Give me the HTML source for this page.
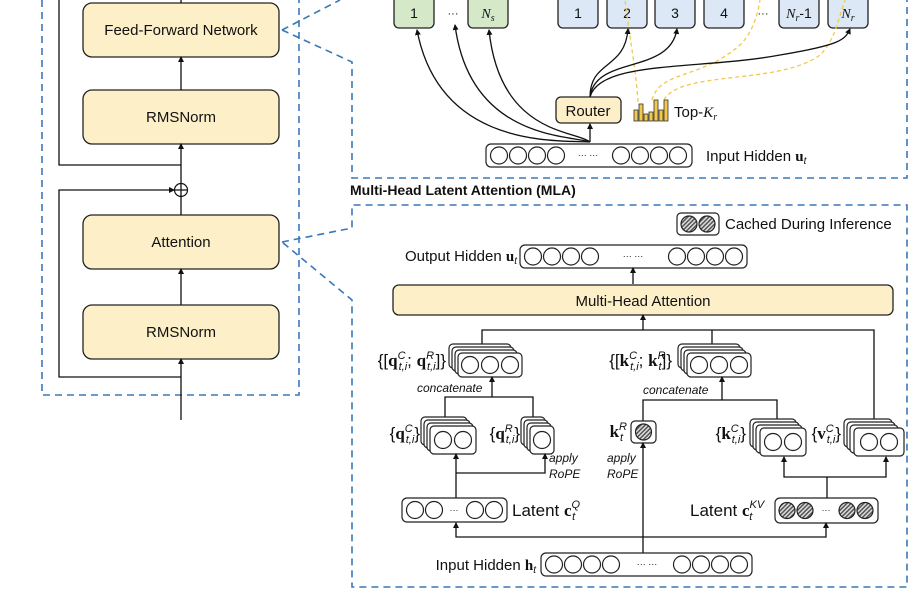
<!DOCTYPE html>
<html><head><meta charset="utf-8"><style>
html,body{margin:0;padding:0;background:#fff;}
svg{display:block;font-family:"Liberation Sans",sans-serif;}
.y{fill:#fdf0c8;stroke:#222;stroke-width:1.3;}
.g{fill:#d5e8c8;stroke:#222;stroke-width:1.3;}
.b{fill:#dce8f5;stroke:#222;stroke-width:1.3;}
.w{fill:#fff;stroke:#222;stroke-width:1.2;}
.l{fill:none;stroke:#111;stroke-width:1.3;}
.d{fill:none;stroke:#3a78b8;stroke-width:1.6;stroke-dasharray:7,5;}
.o{fill:none;stroke:#f2c94c;stroke-width:1.3;stroke-dasharray:4,3;}
.c{fill:#fff;stroke:#222;stroke-width:1.2;}
.h{fill:url(#hat);stroke:#222;stroke-width:1.2;}
text{fill:#111;}
.t{font-size:15px;}
.mt{font-size:17px;}
.s{font-size:14px;}
.i{font-size:12px;font-style:italic;}
.m{font-family:"Liberation Serif",serif;font-weight:bold;}
.sp{font-size:11px;font-style:italic;}
</style></head><body>
<svg width="923" height="600" viewBox="0 0 923 600">
<defs>
<marker id="a" markerWidth="6" markerHeight="6" refX="5" refY="3" orient="auto" markerUnits="userSpaceOnUse"><path d="M0,0 L6,3 L0,6 z" fill="#111"/></marker>
<pattern id="hat" width="3" height="3" patternUnits="userSpaceOnUse" patternTransform="rotate(45)"><rect width="3" height="3" fill="#ddd"/><rect width="1.5" height="3" fill="#555"/></pattern>
</defs>

<!-- LEFT COLUMN -->
<path class="d" d="M42,0 V395 H299 V0"/>
<rect class="y" x="83" y="3" width="196" height="54" rx="9"/>
<text x="181" y="35" text-anchor="middle" class="t">Feed-Forward Network</text>
<rect class="y" x="83" y="90" width="196" height="54" rx="9"/>
<text x="181" y="122" text-anchor="middle" class="t">RMSNorm</text>
<rect class="y" x="83" y="215" width="196" height="54" rx="9"/>
<text x="181" y="247" text-anchor="middle" class="t">Attention</text>
<rect class="y" x="83" y="305" width="196" height="54" rx="9"/>
<text x="181" y="337" text-anchor="middle" class="t">RMSNorm</text>
<path class="l" d="M181,420 V359" marker-end="url(#a)"/>
<path class="l" d="M181,305 V269" marker-end="url(#a)"/>
<path class="l" d="M181,215 V196"/>
<circle cx="181" cy="190" r="6.5" fill="#fff" stroke="#111" stroke-width="1.2"/>
<path class="l" d="M174.5,190 H187.5 M181,183.5 V196.5"/>
<path class="l" d="M181,183.5 V144" marker-end="url(#a)"/>
<path class="l" d="M181,90 V57" marker-end="url(#a)"/>
<path class="l" d="M181,3 V0"/>
<path class="l" d="M181,165 H59 V0"/>
<path class="l" d="M181,377 H59 V190 H174" marker-end="url(#a)"/>

<!-- dashed connectors -->
<path class="d" d="M282,30 L340,0"/>
<path class="d" d="M282,30 L352,62 V178 H907 V0"/>
<path class="d" d="M282,242 L352,228 V205 H907 V587 H352 V300 L282,242"/>

<!-- MoE -->
<rect class="g" x="394" y="-10" width="40" height="38" rx="5"/><text x="414" y="18" text-anchor="middle" class="s">1</text>
<text x="453" y="17" text-anchor="middle" font-size="11">···</text>
<rect class="g" x="468" y="-10" width="40" height="38" rx="5"/><text x="488" y="18" text-anchor="middle" class="s" font-style="italic" font-family="Liberation Serif">N<tspan font-size="10" dy="3">s</tspan></text>
<rect class="b" x="558" y="-10" width="40" height="38" rx="5"/><text x="578" y="18" text-anchor="middle" class="s">1</text>
<rect class="b" x="607" y="-10" width="40" height="38" rx="5"/><text x="627" y="18" text-anchor="middle" class="s">2</text>
<rect class="b" x="655" y="-10" width="40" height="38" rx="5"/><text x="675" y="18" text-anchor="middle" class="s">3</text>
<rect class="b" x="704" y="-10" width="40" height="38" rx="5"/><text x="724" y="18" text-anchor="middle" class="s">4</text>
<text x="763" y="17" text-anchor="middle" font-size="11">···</text>
<rect class="b" x="779" y="-10" width="40" height="38" rx="5"/><text x="799" y="18" text-anchor="middle" class="s"><tspan font-style="italic" font-family="Liberation Serif">N<tspan font-size="10" dy="3">r</tspan></tspan><tspan dy="-3">-1</tspan></text>
<rect class="b" x="828" y="-10" width="40" height="38" rx="5"/><text x="848" y="18" text-anchor="middle" class="s" font-style="italic" font-family="Liberation Serif">N<tspan font-size="10" dy="3">r</tspan></text>

<!-- yellow dashed -->
<path class="o" d="M638,102 C636,70 630,40 625,0"/>
<path class="o" d="M652,100 C660,70 700,80 740,45 C755,30 758,10 760,0"/>
<path class="o" d="M664,100 C680,70 780,85 820,55 C835,40 838,20 845,0"/>

<!-- curves -->
<path class="l" d="M590,142 C560,140 440,150 417,30" marker-end="url(#a)"/>
<path class="l" d="M590,142 C570,135 470,140 455,25" marker-end="url(#a)"/>
<path class="l" d="M590,142 C575,130 500,135 489,30" marker-end="url(#a)"/>
<path class="l" d="M590,142 V124" marker-end="url(#a)"/>
<path class="l" d="M590,97 C590,60 625,70 628,29" marker-end="url(#a)"/>
<path class="l" d="M590,97 C595,55 670,75 677,29" marker-end="url(#a)"/>
<path class="l" d="M590,97 C600,60 700,70 780,55 C840,45 845,40 850,29" marker-end="url(#a)"/>
<rect class="y" x="556" y="97" width="65" height="26" rx="5"/>
<text x="588" y="116" text-anchor="middle" class="t">Router</text>
<g fill="#f2c94c" stroke="#333" stroke-width="0.8">
<rect x="634" y="110" width="4" height="11"/><rect x="639" y="104" width="4" height="17"/><rect x="644" y="114" width="4" height="7"/><rect x="649" y="112" width="4" height="9"/><rect x="654" y="100" width="4" height="21"/><rect x="659" y="110" width="4" height="11"/><rect x="664" y="100" width="4" height="21"/>
</g>
<text x="674" y="117" class="t">Top-<tspan font-style="italic" font-family="Liberation Serif">K<tspan font-size="10" dy="3">r</tspan></tspan></text>
<rect class="w" x="486" y="144" width="206" height="23" rx="5"/>
<g class="c"><circle cx="499" cy="155.5" r="8.5"/><circle cx="518" cy="155.5" r="8.5"/><circle cx="537" cy="155.5" r="8.5"/><circle cx="556" cy="155.5" r="8.5"/><circle cx="621" cy="155.5" r="8.5"/><circle cx="640" cy="155.5" r="8.5"/><circle cx="659" cy="155.5" r="8.5"/><circle cx="678" cy="155.5" r="8.5"/></g>
<text x="588" y="158" text-anchor="middle" font-size="9">··· ···</text>
<text x="706" y="161" class="t">Input Hidden <tspan class="m">u</tspan><tspan font-style="italic" font-size="10" dy="3">t</tspan></text>

<text x="350" y="195" font-size="14" font-weight="bold">Multi-Head Latent Attention (MLA)</text>

<!-- MLA -->
<rect class="w" x="677" y="213" width="42" height="22" rx="4"/>
<circle class="h" cx="689" cy="224" r="8"/><circle class="h" cx="707" cy="224" r="8"/>
<text x="725" y="229" class="t">Cached During Inference</text>

<text x="517" y="261" text-anchor="end" class="t">Output Hidden <tspan class="m">u</tspan><tspan font-style="italic" font-size="10" dy="3">t</tspan></text>
<rect class="w" x="520" y="245" width="227" height="23" rx="5"/>
<g class="c"><circle cx="533" cy="256.5" r="8.5"/><circle cx="552" cy="256.5" r="8.5"/><circle cx="571" cy="256.5" r="8.5"/><circle cx="590" cy="256.5" r="8.5"/><circle cx="677" cy="256.5" r="8.5"/><circle cx="696" cy="256.5" r="8.5"/><circle cx="715" cy="256.5" r="8.5"/><circle cx="734" cy="256.5" r="8.5"/></g>
<text x="633" y="259" text-anchor="middle" font-size="9">··· ···</text>
<path class="l" d="M633,284 V268" marker-end="url(#a)"/>
<rect class="y" x="393" y="285" width="500" height="30" rx="6"/>
<text x="643" y="306" text-anchor="middle" class="t">Multi-Head Attention</text>
<path class="l" d="M643,330 V315" marker-end="url(#a)"/>
<path class="l" d="M482,345 V330 H874 V420 M712,330 V345"/>

<!-- q concat stack -->
<g class="w"><rect x="449" y="344" width="62" height="24" rx="4"/><rect x="452" y="347" width="62" height="24" rx="4"/><rect x="455" y="350" width="62" height="24" rx="4"/><rect x="458" y="353" width="64" height="24" rx="4"/></g>
<g class="c"><circle cx="470" cy="365" r="8.5"/><circle cx="490" cy="365" r="8.5"/><circle cx="510" cy="365" r="8.5"/></g>
<text x="446" y="366" text-anchor="end" class="mt">{[<tspan class="m">q</tspan><tspan class="sp" dy="-7">C</tspan><tspan class="sp" dy="11" dx="-7">t,i</tspan><tspan dy="-4">;</tspan> <tspan class="m">q</tspan><tspan class="sp" dy="-7">R</tspan><tspan class="sp" dy="11" dx="-7">t,i</tspan><tspan dy="-4">]}</tspan></text>

<!-- k concat stack -->
<g class="w"><rect x="678" y="344" width="62" height="24" rx="4"/><rect x="681" y="347" width="62" height="24" rx="4"/><rect x="684" y="350" width="62" height="24" rx="4"/><rect x="687" y="353" width="64" height="24" rx="4"/></g>
<g class="c"><circle cx="699" cy="365" r="8.5"/><circle cx="719" cy="365" r="8.5"/><circle cx="739" cy="365" r="8.5"/></g>
<text x="672" y="366" text-anchor="end" class="mt">{[<tspan class="m">k</tspan><tspan class="sp" dy="-7">C</tspan><tspan class="sp" dy="11" dx="-7">t,i</tspan><tspan dy="-4">;</tspan> <tspan class="m">k</tspan><tspan class="sp" dy="-7">R</tspan><tspan class="sp" dy="11" dx="-7">t</tspan><tspan dy="-4">]}</tspan></text>

<text x="417" y="392" class="i">concatenate</text>
<text x="643" y="394" class="i">concatenate</text>
<path class="l" d="M445,420 V397 H533 V418 M492,397 V377" marker-end="url(#a)"/>
<path class="l" d="M643,421 V400 H777 V420 M722,400 V377" marker-end="url(#a)"/>

<!-- qC -->
<g class="w"><rect x="421" y="417" width="46" height="28" rx="4"/><rect x="424" y="420" width="46" height="28" rx="4"/><rect x="427" y="423" width="46" height="28" rx="4"/><rect x="430" y="426" width="46" height="28" rx="4"/></g>
<g class="c"><circle cx="443" cy="440" r="8.5"/><circle cx="463" cy="440" r="8.5"/></g>
<text x="420" y="439" text-anchor="end" class="mt">{<tspan class="m">q</tspan><tspan class="sp" dy="-7">C</tspan><tspan class="sp" dy="11" dx="-7">t,i</tspan><tspan dy="-4">}</tspan></text>
<!-- qR -->
<g class="w"><rect x="521" y="417" width="24" height="28" rx="4"/><rect x="524" y="420" width="24" height="28" rx="4"/><rect x="527" y="423" width="24" height="28" rx="4"/><rect x="530" y="426" width="24" height="28" rx="4"/></g>
<circle class="c" cx="542" cy="440" r="8.5"/>
<text x="520" y="439" text-anchor="end" class="mt">{<tspan class="m">q</tspan><tspan class="sp" dy="-7">R</tspan><tspan class="sp" dy="11" dx="-7">t,i</tspan><tspan dy="-4">}</tspan></text>
<text x="549" y="462" class="i">apply</text><text x="549" y="478" class="i">RoPE</text>
<path class="l" d="M456,498 V473 M456,473 V454" marker-end="url(#a)"/>
<path class="l" d="M456,473 H545 V454" marker-end="url(#a)"/>

<!-- Latent cQ -->
<rect class="w" x="402" y="498" width="105" height="24" rx="5"/>
<g class="c"><circle cx="415" cy="510" r="8.5"/><circle cx="434" cy="510" r="8.5"/><circle cx="475" cy="510" r="8.5"/><circle cx="494" cy="510" r="8.5"/></g>
<text x="454" y="513" text-anchor="middle" font-size="9">···</text>
<text x="512" y="516" class="mt">Latent <tspan class="m">c</tspan><tspan class="sp" dy="-8">Q</tspan><tspan class="sp" dy="12" dx="-8">t</tspan></text>

<!-- kR -->
<rect class="w" x="631" y="421" width="25" height="22" rx="4"/>
<circle class="h" cx="643.5" cy="432" r="8"/>
<text x="627" y="437" text-anchor="end" class="mt"><tspan class="m">k</tspan><tspan class="sp" dy="-7">R</tspan><tspan class="sp" dy="11" dx="-7">t</tspan></text>
<text x="607" y="462" class="i">apply</text><text x="607" y="478" class="i">RoPE</text>
<path class="l" d="M643,553 V443" marker-end="url(#a)"/>

<!-- kC -->
<g class="w"><rect x="750" y="419" width="46" height="28" rx="4"/><rect x="753" y="422" width="46" height="28" rx="4"/><rect x="756" y="425" width="46" height="28" rx="4"/><rect x="760" y="428" width="46" height="28" rx="4"/></g>
<g class="c"><circle cx="773" cy="442" r="8.5"/><circle cx="793" cy="442" r="8.5"/></g>
<text x="746" y="439" text-anchor="end" class="mt">{<tspan class="m">k</tspan><tspan class="sp" dy="-7">C</tspan><tspan class="sp" dy="11" dx="-7">t,i</tspan><tspan dy="-4">}</tspan></text>
<!-- vC -->
<g class="w"><rect x="844" y="419" width="48" height="28" rx="4"/><rect x="847" y="422" width="48" height="28" rx="4"/><rect x="850" y="425" width="48" height="28" rx="4"/><rect x="854" y="428" width="50" height="28" rx="4"/></g>
<g class="c"><circle cx="869" cy="442" r="8.5"/><circle cx="889" cy="442" r="8.5"/></g>
<text x="841" y="439" text-anchor="end" class="mt">{<tspan class="m">v</tspan><tspan class="sp" dy="-7">C</tspan><tspan class="sp" dy="11" dx="-7">t,i</tspan><tspan dy="-4">}</tspan></text>
<path class="l" d="M827,498 V477 H784 V457" marker-end="url(#a)"/>
<path class="l" d="M827,477 H886 V457" marker-end="url(#a)"/>

<!-- Latent cKV -->
<rect class="w" x="775" y="498" width="103" height="25" rx="5"/>
<g class="h"><circle cx="787" cy="510.5" r="8"/><circle cx="805" cy="510.5" r="8"/><circle cx="847" cy="510.5" r="8"/><circle cx="865" cy="510.5" r="8"/></g>
<text x="826" y="513" text-anchor="middle" font-size="9">···</text>
<text x="690" y="516" class="mt">Latent <tspan class="m">c</tspan><tspan class="sp" dy="-8">KV</tspan><tspan class="sp" dy="12" dx="-15">t</tspan></text>

<path class="l" d="M643,537 H456 V523" marker-end="url(#a)"/>
<path class="l" d="M643,537 H826 V523" marker-end="url(#a)"/>

<!-- Input hidden h -->
<rect class="w" x="541" y="553" width="211" height="23" rx="5"/>
<g class="c"><circle cx="554" cy="564.5" r="8.5"/><circle cx="573" cy="564.5" r="8.5"/><circle cx="592" cy="564.5" r="8.5"/><circle cx="611" cy="564.5" r="8.5"/><circle cx="682" cy="564.5" r="8.5"/><circle cx="701" cy="564.5" r="8.5"/><circle cx="720" cy="564.5" r="8.5"/><circle cx="739" cy="564.5" r="8.5"/></g>
<text x="647" y="567" text-anchor="middle" font-size="9">··· ···</text>
<text x="536" y="570" text-anchor="end" class="t">Input Hidden <tspan class="m">h</tspan><tspan font-style="italic" font-size="10" dy="3">t</tspan></text>
</svg>
</body></html>
